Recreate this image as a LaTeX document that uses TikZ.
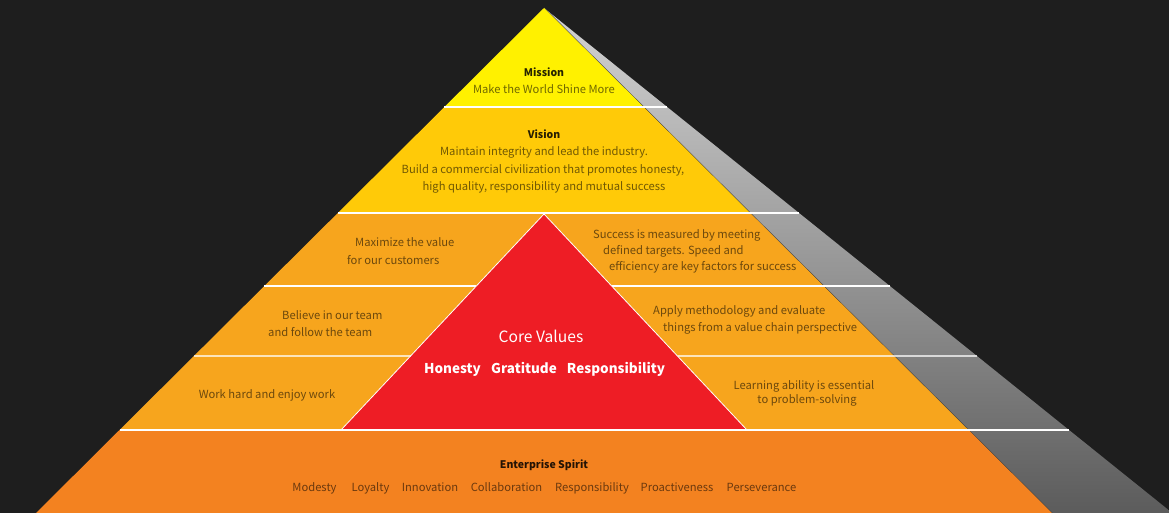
\documentclass[tikz,border=0pt]{standalone}
\usepackage{fontspec}
\newfontfamily\src{Noto Sans CJK SC}
\definecolor{bg}{HTML}{1E1E1E}
\definecolor{mis}{HTML}{FFF100}
\definecolor{vis}{HTML}{FFCA08}
\definecolor{mid}{HTML}{F7A51D}
\definecolor{basec}{HTML}{F38220}
\definecolor{core}{HTML}{EE1D25}
\definecolor{greyT}{HTML}{D4D4D4}
\definecolor{greyB}{HTML}{5A5A5A}
\begin{document}
\begin{tikzpicture}[x=1pt,y=-1pt,
  body/.style={font=\src\fontsize{11.2}{13}\selectfont, text=black, text opacity=0.56, inner sep=0pt},
  ttl/.style={font=\src\bfseries\fontsize{10.5}{13}\selectfont, text=black, text opacity=0.85, inner sep=0pt},
  wht/.style={font=\src\fontsize{15.6}{18}\selectfont, text=white, inner sep=0pt},
  whtb/.style={font=\src\bfseries\fontsize{13.5}{16}\selectfont, text=white, inner sep=0pt, anchor=base},
  word/.style={body, anchor=base},
  sep/.style={white, line width=1.1pt},
  sepsoft/.style={white, opacity=0.7, line width=1.1pt}]
\useasboundingbox (0,0) rectangle (1169,513);
\fill[bg] (0,0) rectangle (1169,513);
\clip (0,0) rectangle (1169,513);
% grey side
\shade[top color=greyT, bottom color=greyB] (544,8) -- (1181,520) -- (1059,520) -- cycle;
\draw[black!75, line width=1pt] (544,8) -- (1059,520);
% bands
\fill[basec] (119.5,430) -- (968.5,430) -- (1059,520) -- (29,520) -- cycle;
\fill[mid] (337.8,213) -- (750.2,213) -- (968.5,430) -- (119.5,430) -- cycle;
\fill[vis] (444.4,107) -- (643.6,107) -- (750.2,213) -- (337.8,213) -- cycle;
\fill[mis] (544,8) -- (643.6,107) -- (444.4,107) -- cycle;
% core triangle
\filldraw[fill=core, draw=white, line width=0.8pt] (544,214) -- (747,430) -- (341,430) -- cycle;
% separators
\draw[sep] (444.4,107) -- (667.2,107);
\draw[sep] (337.8,213) -- (799,213);
\draw[sep] (264.3,286) -- (476.3,286);
\draw[sep] (611.7,286) -- (889.8,286);
\draw[sepsoft] (193.9,356) -- (410.5,356);
\draw[sepsoft] (677.5,356) -- (976.9,356);
\draw[sep] (119.5,430) -- (1069,430);
% texts
\node[ttl] (mt) at (544,72) {Mission};
\node[body] (mb) at (544,89) {Make the World Shine More};
\node[ttl] (vt) at (544,134) {Vision};
\node[body] (v1) at (544,152) {Maintain integrity and lead the industry.};
\node[body] (v2) at (543,170) {Build a commercial civilization that promotes honesty,};
\node[body] (v3) at (544,187) {high quality, responsibility and mutual success};
\node[body, anchor=west] (l1a) at (355,242) {Maximize the value};
\node[body, anchor=west] (l1b) at (347,260) {for our customers};
\node[body, anchor=west] (l2a) at (282,315) {Believe in our team};
\node[body, anchor=west] (l2b) at (268,332) {and follow the team};
\node[body] (l3) at (267,395) {Work hard and enjoy work};
\node[body, anchor=west] (r1a) at (593,235) {Success is measured by meeting};
\node[body, anchor=west] (r1b) at (603,251) {defined targets. Speed and};
\node[body, anchor=west] (r1c) at (609,267) {efficiency are key factors for success};
\node[body, anchor=west] (r2a) at (653,311) {Apply methodology and evaluate};
\node[body, anchor=west] (r2b) at (663,328) {things from a value chain perspective};
\node[body] (r3a) at (804,386) {Learning ability is essential};
\node[body] (r3b) at (807,400) {to problem-solving};
\node[wht] (cv) at (541,336) {Core Values};
\node[whtb] (h1) at (452.5,373) {Honesty};
\node[whtb] (h2) at (524,373) {Gratitude};
\node[whtb] (h3) at (616,373) {Responsibility};
\node[ttl] (es) at (544,465) {Enterprise Spirit};
\node[word] (e1) at (314.5,491) {Modesty};
\node[word] (e2) at (370.5,491) {Loyalty};
\node[word] (e3) at (430,491) {Innovation};
\node[word] (e4) at (506.5,491) {Collaboration};
\node[word] (e5) at (592,491) {Responsibility};
\node[word] (e6) at (677,491) {Proactiveness};
\node[word] (e7) at (761.5,491) {Perseverance};
\end{tikzpicture}
\end{document}
